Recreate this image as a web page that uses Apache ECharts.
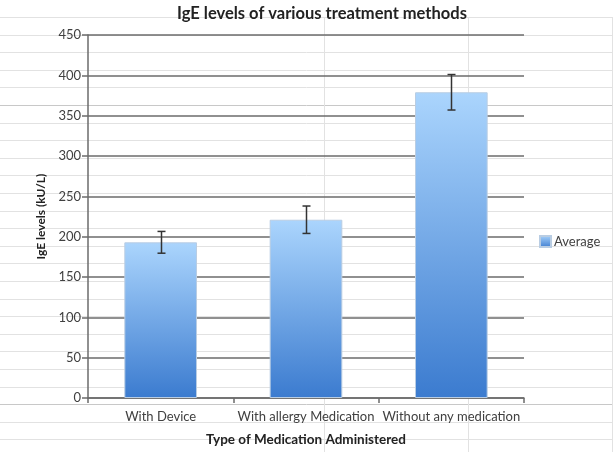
<!DOCTYPE html>
<html>
<head>
<meta charset="utf-8">
<script src="https://cdn.jsdelivr.net/npm/echarts@6/dist/echarts.min.js"></script>
<style>
html,body{margin:0;padding:0;background:#fff;}
#chart{width:613px;height:452px;}
</style>
</head>
<body>
<div id="chart"></div>
<script>
var categories = ['With Device', 'With allergy Medication', 'Without any medication'];
var averages = [193, 221, 379];
var errors = [13.5, 17, 22];
var yTicks = [0, 50, 100, 150, 200, 250, 300, 350, 400, 450];

var FONT = 'Lato';
var chart = echarts.init(document.getElementById('chart'), null, {renderer: 'canvas'});

// decorative spreadsheet cell lines behind the chart
var bg = [];
for (var i = 0; i < 25; i++) {
  var y = Math.round(17 + i * 17.6) + 0.5;
  bg.push({type: 'line', z: -100, silent: true,
    shape: {x1: 0, y1: y, x2: 613, y2: y},
    style: {stroke: (i === 5 || i === 22) ? '#c8c8c8' : '#e2e2e2', lineWidth: 1}});
}
[324, 468, 612].forEach(function (x) {
  bg.push({type: 'line', z: -100, silent: true,
    shape: {x1: x + 0.5, y1: 17, x2: x + 0.5, y2: 452},
    style: {stroke: '#e2e2e2', lineWidth: 1}});
});

var barGradient = new echarts.graphic.LinearGradient(0, 0, 0, 1, [
  {offset: 0, color: '#abd5fd'},
  {offset: 1, color: '#3b7bcf'}
]);

var option = {
  animation: false,
  backgroundColor: 'transparent',
  graphic: bg,
  title: {
    text: 'IgE levels of various treatment methods',
    left: 317, top: 0, textAlign: 'center',
    textStyle: {fontFamily: FONT, fontSize: 16.5, fontWeight: 'bold', color: '#222'}
  },
  legend: {
    data: [{name: 'Average', icon: 'rect'}],
    left: 539, top: 235, orient: 'vertical', padding: 0,
    itemWidth: 11, itemHeight: 11, itemGap: 4,
    textStyle: {fontFamily: FONT, fontSize: 13, color: '#404040', padding: [0, 0, 0, -2]}
  },
  grid: {left: 88, right: 89, top: 35, bottom: 52, containLabel: false},
  xAxis: {
    type: 'category',
    data: categories,
    name: 'Type of Medication Administered',
    nameLocation: 'middle',
    nameGap: 35,
    nameTextStyle: {fontFamily: FONT, fontSize: 13.5, fontWeight: 'bold', color: '#222'},
    axisLine: {lineStyle: {color: '#6b6b6b', width: 1.5}},
    axisTick: {show: true, length: 5, lineStyle: {color: '#6b6b6b', width: 1.5}},
    axisLabel: {fontFamily: FONT, fontSize: 13, color: '#404040', margin: 12, interval: 0}
  },
  yAxis: {
    type: 'value',
    min: 0, max: 450, interval: 50,
    name: 'IgE levels (kU/L)',
    nameLocation: 'middle',
    nameRotate: 90,
    nameGap: 37,
    nameTextStyle: {fontFamily: FONT, fontSize: 12, fontWeight: 'bold', color: '#222'},
    axisLine: {show: true, lineStyle: {color: '#6b6b6b', width: 1.5}},
    axisTick: {show: true, length: 6, lineStyle: {color: '#6b6b6b', width: 1.5}},
    axisLabel: {fontFamily: FONT, fontSize: 13, color: '#404040', margin: 7,
      formatter: function (v) { return yTicks.indexOf(v) >= 0 ? String(v) : ''; }},
    splitLine: {show: true, lineStyle: {color: '#6b6b6b', width: 1.5}}
  },
  series: [
    {
      name: 'Average',
      type: 'bar',
      data: averages,
      barWidth: '50%',
      itemStyle: {color: barGradient, borderColor: '#b9cde3', borderWidth: 1},
      z: 2
    },
    {
      name: 'error',
      type: 'custom',
      z: 5,
      silent: true,
      data: averages.map(function (v, i) { return [i, v - errors[i], v + errors[i]]; }),
      renderItem: function (params, api) {
        var lo = api.coord([api.value(0), api.value(1)]);
        var hi = api.coord([api.value(0), api.value(2)]);
        var x = Math.round(lo[0]) + 0.5;
        var hw = 4;
        var st = {stroke: '#333', lineWidth: 1.5};
        return {type: 'group', children: [
          {type: 'line', shape: {x1: x, y1: hi[1], x2: x, y2: lo[1]}, style: st},
          {type: 'line', shape: {x1: x - hw, y1: hi[1], x2: x + hw, y2: hi[1]}, style: st},
          {type: 'line', shape: {x1: x - hw, y1: lo[1], x2: x + hw, y2: lo[1]}, style: st}
        ]};
      }
    }
  ]
};
chart.setOption(option);
</script>
</body>
</html>
